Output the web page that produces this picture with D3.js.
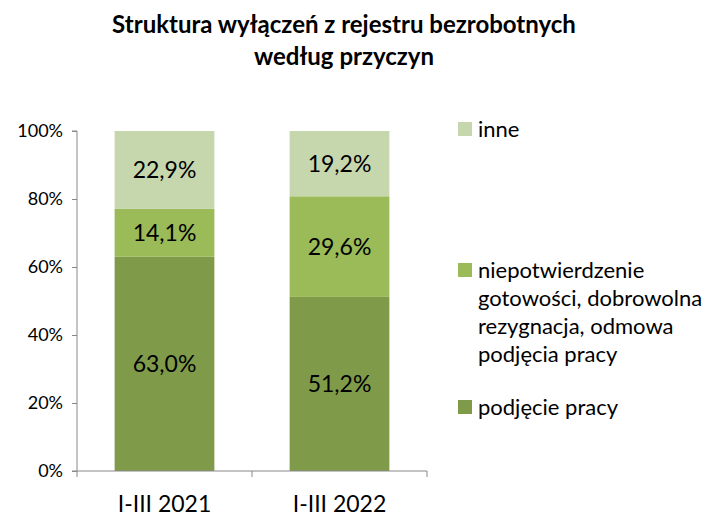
<!DOCTYPE html>
<html lang="pl">
<head>
<meta charset="utf-8">
<script src="https://d3js.org/d3.v7.min.js"></script>
<style>
  body { margin: 0; background: #fff; }
  svg text { font-family: "Lato", "Open Sans", sans-serif; fill: #000; }
  .title { font-weight: bold; font-size: 24px; }
  .axis path, .axis line { stroke: #888; }
  .axis text { font-size: 18px; }
</style>
</head>
<body>
<div id="chart"></div>
<script>
  var categories = ["I-III 2021", "I-III 2022"];
  var seriesNames = ["podjęcie pracy", "niepotwierdzenie gotowości, dobrowolna rezygnacja, odmowa podjęcia pracy", "inne"];
  var podjeciePracy = [63.0, 51.2];
  var niepotwierdzenie = [14.1, 29.6];
  var inne = [22.9, 19.2];
  var yTicks = [0, 20, 40, 60, 80, 100];
  var colors = ["#7f9b4a", "#9bbb59", "#c6d7ae"];

  var w = 707, h = 516;
  var svg = d3.select("#chart").append("svg")
      .attr("width", w)
      .attr("height", h);

  svg.append("text").attr("class", "title")
      .attr("x", 344).attr("y", 33)
      .attr("text-anchor", "middle")
      .text("Struktura wyłączeń z rejestru bezrobotnych");
  svg.append("text").attr("class", "title")
      .attr("x", 344).attr("y", 65)
      .attr("text-anchor", "middle")
      .text("według przyczyn");

  var x = d3.scaleBand().domain(categories).range([77, 427]).paddingInner(0.43).paddingOuter(0.215);
  var y = d3.scaleLinear().domain([0, 100]).range([471, 131]);

  var rows = categories.map(function(c, i) {
      return { cat: c, s0: podjeciePracy[i], s1: niepotwierdzenie[i], s2: inne[i] };
  });
  var stack = d3.stack().keys(["s0", "s1", "s2"])(rows);

  stack.forEach(function(layer, li) {
      svg.selectAll(".bar" + li)
          .data(layer)
          .enter()
          .append("rect")
          .attr("x", d => x(d.data.cat))
          .attr("width", x.bandwidth())
          .attr("y", d => y(d[1]))
          .attr("height", d => y(d[0]) - y(d[1]))
          .attr("fill", colors[li]);

      svg.selectAll(".lab" + li)
          .data(layer)
          .enter()
          .append("text")
          .attr("x", d => x(d.data.cat) + x.bandwidth() / 2)
          .attr("y", d => (y(d[0]) + y(d[1])) / 2)
          .attr("dy", "0.36em")
          .attr("text-anchor", "middle")
          .style("font-size", "23px")
          .text(d => (d[1] - d[0]).toFixed(1).replace(".", ",") + "%");
  });

  // y axis
  var yAxis = svg.append("g").attr("class", "axis")
      .attr("transform", "translate(77,0)")
      .call(d3.axisLeft(y).tickValues(yTicks).tickSize(5).tickPadding(9).tickFormat(d => d + "%"));
  yAxis.select(".domain").attr("d", "M-5,131H0V471H-5");

  // x axis
  var xAxis = svg.append("g").attr("class", "axis")
      .attr("transform", "translate(0,471)");
  xAxis.append("line").attr("x1", 77).attr("x2", 427).attr("y1", 0).attr("y2", 0).attr("stroke", "#888");
  [77, 252, 427].forEach(function(px) {
      xAxis.append("line").attr("x1", px).attr("x2", px).attr("y1", 0).attr("y2", 6).attr("stroke", "#888");
  });
  xAxis.selectAll("text.cat")
      .data(categories)
      .enter()
      .append("text")
      .attr("x", d => x(d) + x.bandwidth() / 2)
      .attr("y", 41)
      .attr("text-anchor", "middle")
      .style("font-size", "23px")
      .text(d => d);

  // legend
  var legendItems = [
      { color: colors[2], lines: ["inne"], y: 129 },
      { color: colors[1], lines: ["niepotwierdzenie", "gotowości, dobrowolna", "rezygnacja, odmowa", "podjęcia pracy"], y: 270 },
      { color: colors[0], lines: ["podjęcie pracy"], y: 407 }
  ];
  var legend = svg.append("g");
  legendItems.forEach(function(item) {
      legend.append("rect")
          .attr("x", 458).attr("y", item.y - 7)
          .attr("width", 14).attr("height", 14)
          .attr("fill", item.color);
      item.lines.forEach(function(t, i) {
          legend.append("text")
              .attr("x", 478)
              .attr("y", item.y + i * 28)
              .attr("dy", "0.36em")
              .style("font-size", "22px")
              .text(t);
      });
  });
</script>
</body>
</html>
